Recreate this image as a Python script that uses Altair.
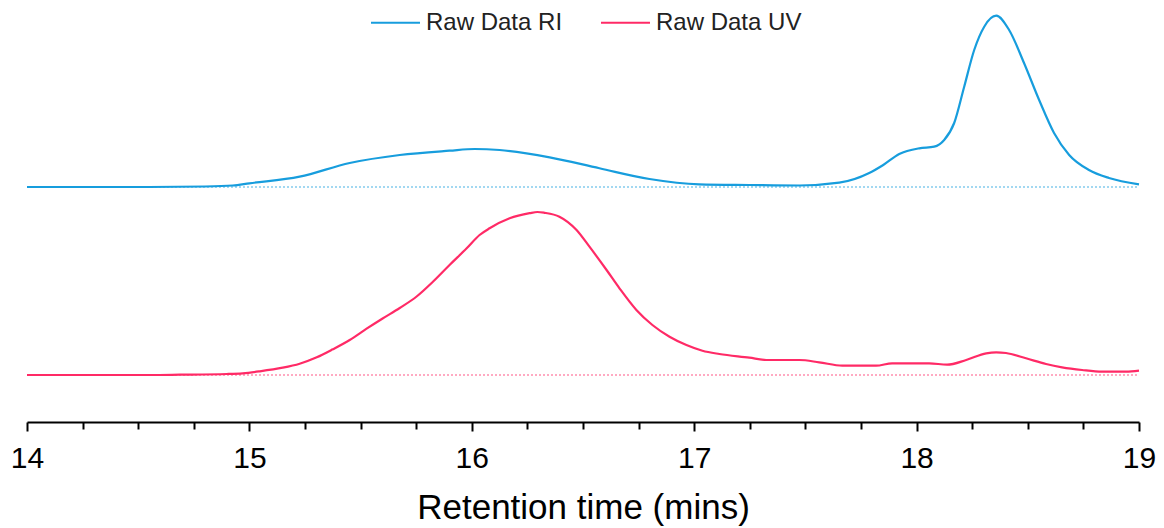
import altair as alt
import pandas as pd

# Retention time (min) and RI signal (arbitrary units, above its own baseline)
ri_time = [14.0, 14.55, 14.8, 14.925, 15.0, 15.226, 15.451, 15.676, 15.9, 16.013, 16.125,
           16.35, 16.574, 16.799, 17.023, 17.248, 17.473, 17.652, 17.787, 17.85, 17.922,
           18.012, 18.079, 18.124, 18.169, 18.214, 18.259, 18.304, 18.358, 18.416, 18.483,
           18.551, 18.618, 18.686, 18.775, 18.865, 19.0]
ri_signal = [0, 0, 0.5, 1.5, 3.7, 10.3, 24, 32, 36.3, 38, 37,
             29.7, 18.7, 8, 2.7, 2, 1.5, 4.3, 14, 22, 33,
             38.7, 40.3, 47, 64, 100.3, 137, 160.3, 171.3, 157, 124,
             87, 54, 32, 17, 9, 2.7]

# Retention time (min) and UV signal
uv_time = [14.0, 14.553, 14.687, 14.898, 14.97, 15.047, 15.15, 15.226, 15.303, 15.375,
           15.451, 15.527, 15.599, 15.676, 15.752, 15.824, 15.9, 15.977, 16.035, 16.08,
           16.17, 16.26, 16.295, 16.327, 16.394, 16.471, 16.529, 16.606, 16.664, 16.74, 16.812,
           16.889, 16.965, 17.037, 17.113, 17.248, 17.324, 17.473, 17.562, 17.666, 17.818,
           17.89, 18.057, 18.137, 18.223, 18.313, 18.358, 18.402, 18.492, 18.582, 18.654,
           18.744, 18.834, 18.942, 19.0]
uv_signal = [0, 0, 0.3, 1, 1.7, 3.7, 7.3, 11.3, 17.7, 25.7,
             35, 46.3, 56.5, 67, 78.5, 93, 110, 126.7, 140, 146.7,
             156.7, 161.8, 163, 162.2, 158.3, 145, 128.3, 105, 86.7, 65, 50,
             38.3, 30, 24.3, 21, 17.3, 15, 15, 12.7, 9.3, 9.3,
             11.7, 11.7, 10.3, 15, 21.7, 22.7, 22, 16.7, 11, 7.7,
             5, 3.3, 3.3, 4.3]

series_names = ["Raw Data RI", "Raw Data UV"]
series_colors = ["#179ddd", "#ff2a66"]
x_ticks_all = [14 + 0.25 * i for i in range(21)]

FONT = "Liberation Sans"

lines = pd.concat([
    pd.DataFrame({"t": ri_time, "signal": ri_signal, "series": series_names[0]}),
    pd.DataFrame({"t": uv_time, "signal": uv_signal, "series": series_names[1]}),
])
baselines = pd.DataFrame({
    "t": [14, 19, 14, 19],
    "signal": [0, 0, 0, 0],
    "series": [series_names[0]] * 2 + [series_names[1]] * 2,
})

offset_expr = f"datum.signal + (datum.series === '{series_names[0]}' ? 235 : 47)"

color = alt.Color(
    "series:N",
    scale=alt.Scale(domain=series_names, range=series_colors),
    legend=alt.Legend(
        title=None, orient="none", legendX=343, legendY=-13, direction="horizontal",
        symbolType="stroke", symbolSize=2400, symbolStrokeWidth=2,
        labelFont=FONT, labelFontSize=24, labelColor="#222222",
        labelOffset=5, columnPadding=34, padding=0,
    ),
)

x = alt.X(
    "t:Q",
    scale=alt.Scale(domain=[14, 19], nice=False, zero=False),
    axis=alt.Axis(
        values=x_ticks_all,
        labelExpr="datum.value % 1 === 0 ? format(datum.value, 'd') : ''",
        tickSize={"condition": {"test": "datum.value % 1 === 0", "value": 9}, "value": 7},
        tickWidth=2, tickColor="black", domainWidth=2, domainColor="black",
        labelFont=FONT, labelFontSize=30, labelColor="black", labelFlush=False,
        labelPadding=12, labelOverlap=False,
        title="Retention time (mins)", titleFont=FONT, titleFontSize=35,
        titleFontWeight="normal", titleColor="black", titlePadding=17, grid=False,
    ),
)
y = alt.Y("y:Q", scale=alt.Scale(domain=[0, 412]), axis=None)

base_layers = [
    alt.Chart(baselines).transform_filter(f"datum.series === '{name}'")
    .transform_calculate(y=offset_expr)
    .mark_line(strokeWidth=1, strokeDash=[2, 2], opacity=0.8)
    .encode(x=x, y=y, color=alt.value(col))
    for name, col in zip(series_names, series_colors)
]

line_layer = alt.Chart(lines).transform_calculate(y=offset_expr).mark_line(
    strokeWidth=2.2, interpolate="monotone"
).encode(x=x, y=y, color=color, order="t:Q")

chart = alt.layer(*base_layers, line_layer).properties(
    width=1112, height=412,
    padding={"left": 19, "top": 2, "right": 17, "bottom": 112},
    autosize=alt.AutoSizeParams(type="none"),
).configure_view(stroke=None)

chart.save("out.html", embed_options={"renderer": "svg", "actions": False})
